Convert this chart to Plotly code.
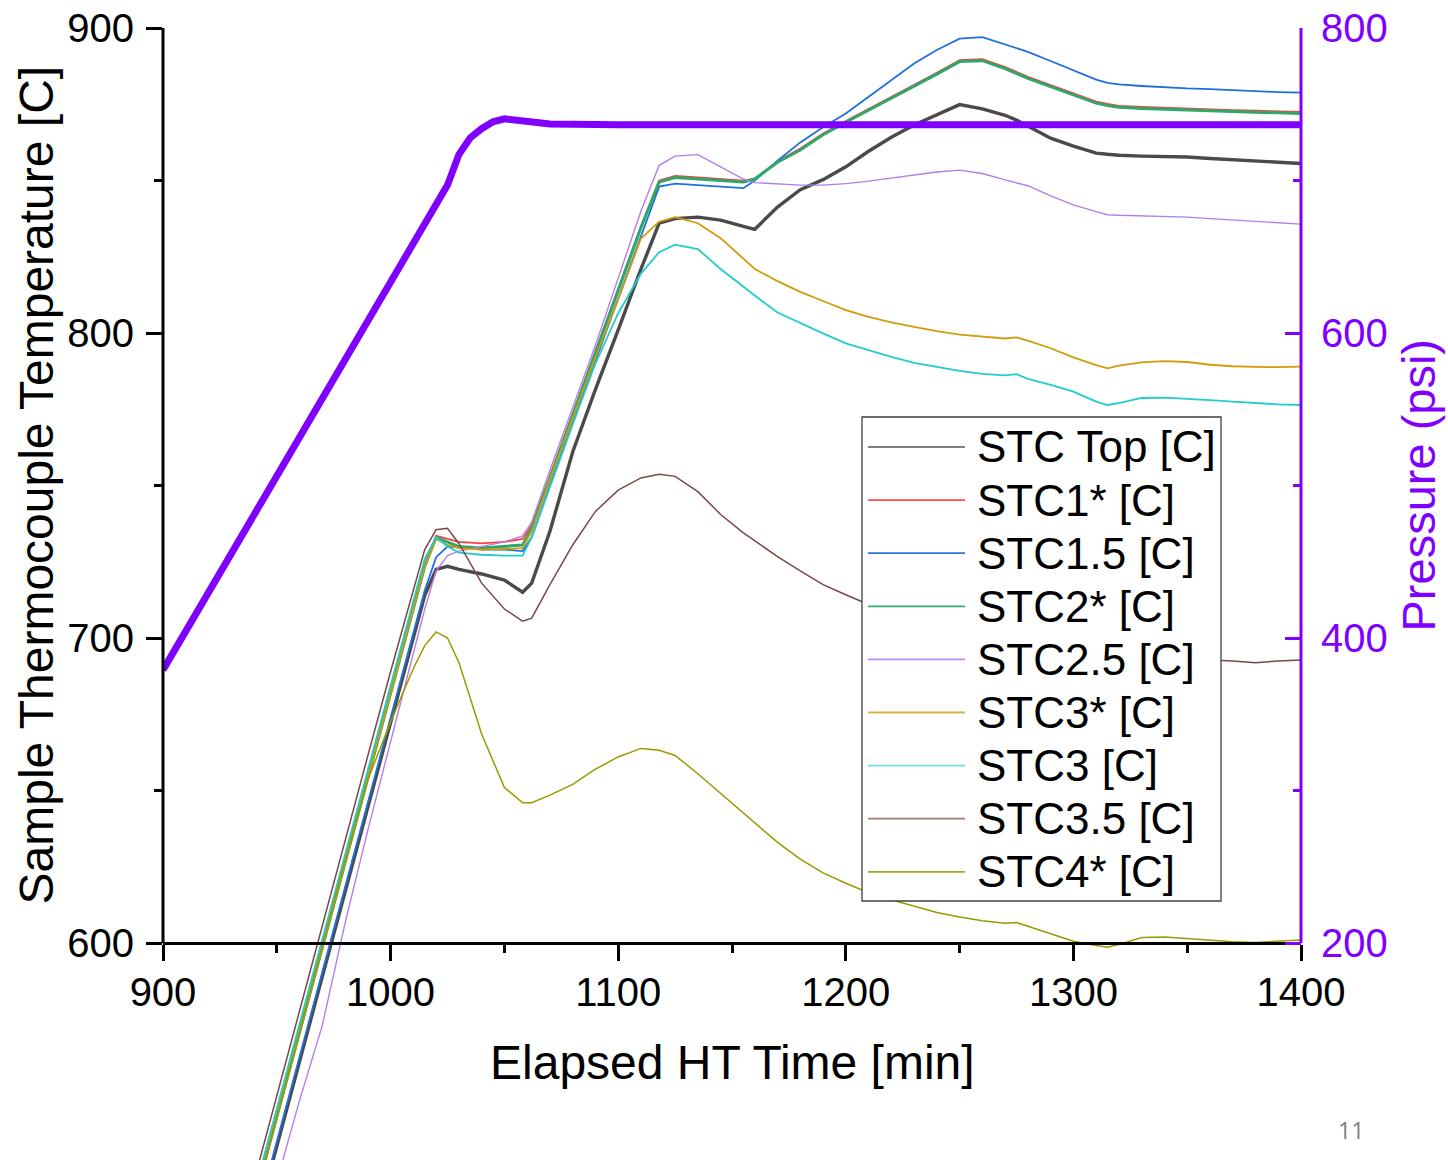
import plotly.graph_objects as go

# ---------------- data ----------------
time_min = [940, 950, 960, 970, 980, 990, 1000, 1010, 1015, 1020, 1025, 1030, 1040, 1050, 1058, 1062,
            1070, 1080, 1090, 1100, 1110, 1118, 1125, 1135, 1145, 1155, 1160, 1170, 1180, 1190, 1200,
            1210, 1220, 1230, 1240, 1250, 1260, 1270, 1275, 1280, 1290, 1300, 1310, 1315, 1320, 1330,
            1340, 1350, 1360, 1370, 1380, 1390, 1400]

stc_top = [505.5, 533, 561, 589, 616.7, 644.5, 672, 700, 714, 722.5, 723.5, 722.5, 721, 719, 715, 718,
           735, 761, 781.5, 801, 821, 836, 837.5, 838, 837, 835, 834, 841.3, 847, 850.3, 854.5,
           859.6, 864.2, 868.2, 871.7, 874.9, 873.5, 871.4, 869.8, 867.8, 863.9, 861.3, 859, 858.6, 858.3, 858,
           857.9, 857.7, 857.2, 856.8, 856.3, 856, 855.6]
stc1_star = [515, 543, 570.8, 598.8, 626.6, 654.4, 682.2, 710, 724, 733.5, 732.5, 731.5, 731, 731.5, 732.5, 737,
             753, 773.5, 794, 814.5, 835, 850, 851.5, 851, 850.5, 850, 850.5, 856.3, 860.5, 865.4, 869.5,
             873.4, 877.3, 881.2, 885.3, 889.5, 889.8, 887.2, 885.5, 884, 881.3, 878.6, 875.9, 875.1, 874.5, 874.1,
             873.8, 873.5, 873.3, 873.1, 872.9, 872.7, 872.5]
stc1_5 = [507, 535, 562.7, 590.5, 618.3, 646, 674, 701.7, 715.6, 726.5, 730, 729.8, 729, 729, 728.5, 733,
          750, 770.5, 791, 811.5, 832, 848, 849, 848.5, 848, 847.5, 850, 856.5, 862.5, 867.5, 872,
          877.5, 883, 888.4, 892.8, 896.5, 897, 894.7, 893.5, 892.2, 889.2, 886.1, 883.1, 882, 881.5, 881,
          880.5, 880.2, 880, 879.6, 879.3, 879, 878.8]
stc2_star = [515.2, 543, 570.8, 598.6, 626.4, 654.2, 682, 709.8, 723.5, 733, 731.5, 730, 729.5, 730, 730.5, 736,
             752.5, 773, 793.5, 814, 834.5, 849.5, 851, 850.5, 850, 849.5, 850.5, 856, 860, 865, 869.1,
             873, 876.9, 880.8, 884.9, 889, 889.3, 886.7, 885.1, 883.5, 880.8, 878.1, 875.4, 874.6, 874, 873.6,
             873.3, 873, 872.8, 872.6, 872.4, 872.2, 872]
stc2_5 = [495.2, 521.8, 548.4, 573, 606.5, 637, 666, 695, 709.5, 722, 727, 728.5, 730, 731.5, 733.5, 738,
          755, 775.5, 796, 818, 840, 855, 858, 858.5, 854.5, 850.5, 849.3, 848.8, 848.5, 848.5, 849,
          849.8, 850.8, 851.8, 852.8, 853.4, 852.3, 850.2, 849.2, 848.3, 845, 842, 839.8, 838.8, 838.6, 838.4,
          838.2, 838, 837.5, 837, 836.5, 836, 835.7]
stc3_star = [515.2, 543, 570.8, 598.6, 626.4, 654.2, 682, 709.8, 723.5, 732.5, 730.5, 729.5, 729, 729.2, 729.5, 735,
             752, 772, 792, 811, 831, 836.5, 838, 836, 831.1, 824.4, 821, 817, 813.5, 810.5, 807.5,
             805.3, 803.5, 802, 800.6, 799.5, 798.8, 798.2, 798.6, 797.5, 795, 792, 789.5, 788.4, 789.3, 790.4,
             790.8, 790.5, 789.6, 789.1, 788.9, 788.8, 789]
stc3 = [518, 545.8, 573.6, 601.4, 629.2, 657, 684.8, 712.6, 726, 733, 730, 728, 727.3, 727, 727, 733,
        749.5, 770, 790, 806.5, 819.5, 826.5, 829, 827.5, 821, 815.1, 812.3, 806.7, 803.2, 799.9, 796.6,
        794.3, 792.2, 790.2, 788.8, 787.6, 786.6, 786.1, 786.5, 785, 783, 780.8, 777.5, 776.4, 777, 778.7,
        778.8, 778.5, 778, 777.5, 777, 776.6, 776.4]
stc3_5 = [522, 550, 577.7, 605.6, 633.5, 661.4, 689, 716, 729, 735.5, 736, 731, 718, 709.5, 705.5, 706.5,
          717.5, 730.5, 741.5, 748.5, 752.5, 753.7, 753, 748, 740.5, 734.5, 732, 726.7, 722, 717.5, 714.2,
          711, 708.5, 706, 704, 702, 700.5, 699, 698.2, 697.5, 696.5, 695.5, 694.8, 694.5, 694.2, 693.8,
          693.5, 693.2, 693, 692.5, 691.9, 692.5, 692.8]
stc4_star = [515, 543, 571, 599, 627, 653.5, 672.5, 690, 697.5, 702, 700, 692, 668.5, 651, 646, 646,
             648.5, 652, 657, 661, 663.8, 663.2, 661.5, 655.5, 649, 642.5, 639.5, 633, 627.5, 623, 619.6,
             616.5, 614.2, 612, 610, 608.5, 607.3, 606.5, 606.7, 605.5, 603, 600.6, 599.2, 598.6, 599.5, 601.8,
             602, 601.5, 601, 600.4, 600.2, 600.5, 601]

pressure_time = [900, 920, 940, 960, 980, 1000, 1020, 1025, 1030, 1035, 1040, 1045, 1050, 1055, 1060, 1070,
                 1100, 1150, 1200, 1250, 1300, 1350, 1400]
pressure_psi = [379, 430, 481, 532, 583, 634, 684, 697, 717, 728, 734, 738.5, 740.5, 739.5, 738, 737,
                736.5, 736.5, 736.5, 736.5, 736.5, 736.5, 736.5]

series_names = ["STC Top [C]", "STC1* [C]", "STC1.5 [C]", "STC2* [C]", "STC2.5 [C]",
                "STC3* [C]", "STC3 [C]", "STC3.5 [C]", "STC4* [C]"]
series_values = [stc_top, stc1_star, stc1_5, stc2_star, stc2_5, stc3_star, stc3, stc3_5, stc4_star]

x_ticks = [900, 1000, 1100, 1200, 1300, 1400]
x_minor = [950, 1050, 1150, 1250, 1350]
t_ticks = [600, 700, 800, 900]
t_minor = [650, 750, 850]
p_ticks = [200, 400, 600, 800]
p_minor = [300, 500, 700]

# ---------------- styling ----------------
colors = ['#4a4a4a', '#ff3c3c', '#1f6fdf', '#2ea86a', '#b57ee6', '#d29b0a', '#22cccc', '#7b4646', '#9a9a00']
widths = [3.4, 1.8, 1.8, 3.0, 1.4, 1.8, 1.8, 1.5, 1.5]
legend_colors = ['#808080', '#ff4a4a', '#2f74dc', '#33ad70', '#c08ef0', '#dcb040', '#6ee0e0', '#a07878', '#a8a820']
PURPLE = '#7f00ff'
FONT = 'Liberation Sans, Arial, sans-serif'

W, H = 1448, 1160
L, R, T, B = 163, 1301, 28, 1160   # plot area in window pixels


def xp(px):
    return (px - L) / (R - L)


def yp(py):
    return (B - py) / (B - T)


axis_bottom_px = 943
temp_per_px = 100 / 305.0
press_per_px = 200 / 305.0
temp_lo = 600 - (B - axis_bottom_px) * temp_per_px
press_lo = 200 - (B - axis_bottom_px) * press_per_px

fig = go.Figure()
for name, vals, c, w in zip(series_names, series_values, colors, widths):
    fig.add_trace(go.Scatter(x=time_min, y=vals, mode='lines', name=name,
                             line=dict(color=c, width=w), showlegend=False))

fig.add_trace(go.Scatter(x=pressure_time, y=pressure_psi, mode='lines', name='Pressure (psi)',
                         line=dict(color=PURPLE, width=7), yaxis='y2', showlegend=False))

shapes = [
    dict(type='line', xref='paper', yref='y', x0=0, x1=0, y0=600, y1=900,
         line=dict(color='black', width=3)),
    dict(type='line', xref='paper', yref='y2', x0=1, x1=1, y0=200, y1=800,
         line=dict(color=PURPLE, width=3)),
    dict(type='rect', xref='paper', yref='paper', x0=xp(862), x1=xp(1221), y0=yp(901), y1=yp(417),
         fillcolor='white', line=dict(color='#404040', width=1.3), layer='above'),
]
annotations = []
row0, dy = 447, 53.1
for i, (name, c) in enumerate(zip(series_names, legend_colors)):
    yy = yp(row0 + i * dy)
    shapes.append(dict(type='line', xref='paper', yref='paper', x0=xp(868), x1=xp(965), y0=yy, y1=yy,
                       line=dict(color=c, width=1.8), layer='above'))
    annotations.append(dict(text=name, xref='paper', yref='paper', x=xp(975), y=yy, xanchor='left',
                            yanchor='middle', showarrow=False, font=dict(family=FONT, size=44, color='black')))

annotations += [
    dict(text='Elapsed HT Time [min]', xref='paper', yref='paper', x=0.5, y=yp(1062), xanchor='center',
         yanchor='middle', showarrow=False, font=dict(family=FONT, size=48, color='black')),
    dict(text='Sample Thermocouple Temperature [C]', xref='paper', yref='paper', x=xp(36), y=yp(485.5),
         xanchor='center', yanchor='middle', textangle=-90, showarrow=False,
         font=dict(family=FONT, size=48, color='black')),
    dict(text='Pressure (psi)', xref='paper', yref='paper', x=xp(1418), y=yp(485.5),
         xanchor='center', yanchor='middle', textangle=-90, showarrow=False,
         font=dict(family=FONT, size=47, color=PURPLE)),
    dict(text='11', xref='paper', yref='paper', x=xp(1351), y=yp(1130), xanchor='center',
         yanchor='middle', showarrow=False, font=dict(family='Open Sans, sans-serif', size=23, color='#7f7f7f')),
]

fig.update_layout(
    template='none',
    width=W, height=H, autosize=False,
    margin=dict(l=L, r=W - R, t=T, b=H - B, pad=0),
    paper_bgcolor='white', plot_bgcolor='white',
    showlegend=False,
    xaxis=dict(range=[900, 1400], domain=[0, 1], anchor='free', position=yp(axis_bottom_px),
               showline=True, linecolor='black', linewidth=3, mirror=False,
               ticks='outside', ticklen=16, tickwidth=3, tickcolor='black',
               tickmode='array', tickvals=x_ticks, ticklabelstandoff=-3, ticklabeloverflow='allow',
               tickfont=dict(family=FONT, size=40, color='black'),
               minor=dict(tickmode='array', tickvals=x_minor, ticks='outside', ticklen=8, tickwidth=3,
                          tickcolor='black', showgrid=False),
               showgrid=False, zeroline=False, automargin=False),
    yaxis=dict(range=[temp_lo, 900.01], domain=[0, 1], showline=False,
               ticks='outside', ticklen=16, tickwidth=3, tickcolor='black',
               tickmode='array', tickvals=t_ticks, ticklabelstandoff=4, ticklabeloverflow='allow',
               tickfont=dict(family=FONT, size=40, color='black'),
               minor=dict(tickmode='array', tickvals=t_minor, ticks='outside', ticklen=8, tickwidth=3,
                          tickcolor='black', showgrid=False),
               showgrid=False, zeroline=False, automargin=False),
    yaxis2=dict(range=[press_lo, 800.02], overlaying='y', side='right', anchor='x', showline=False,
                ticks='inside', ticklen=16, tickwidth=3, tickcolor=PURPLE,
                tickmode='array', tickvals=p_ticks, ticklabelstandoff=19, ticklabeloverflow='allow',
                tickfont=dict(family=FONT, size=40, color=PURPLE),
                minor=dict(tickmode='array', tickvals=p_minor, ticks='inside', ticklen=8, tickwidth=3,
                           tickcolor=PURPLE, showgrid=False),
                showgrid=False, zeroline=False, automargin=False),
    shapes=shapes,
    annotations=annotations,
)

# remove the default page margin so the figure fills the window exactly
fig.write_html('out.html', config={'displayModeBar': False},
               post_script="document.body.style.margin='0px';document.body.style.overflow='hidden';")
